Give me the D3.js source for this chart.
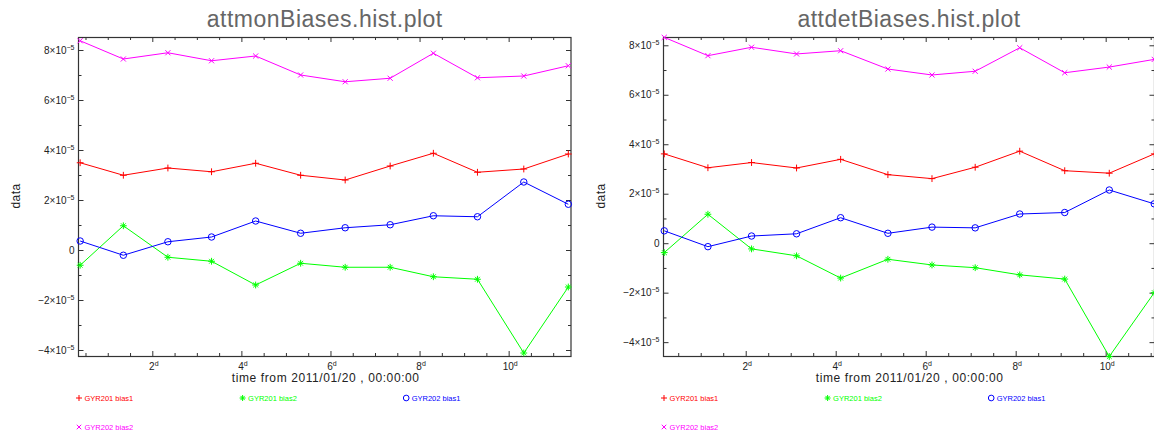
<!DOCTYPE html>
<html>
<head>
<meta charset="utf-8">
<script src="https://cdn.jsdelivr.net/npm/d3@7"></script>
<style>
  html, body { margin: 0; padding: 0; background: #fff; }
  svg { display: block; }
  text { font-family: "Liberation Sans", Arial, sans-serif; }
</style>
</head>
<body>
<svg id="chart" width="1154" height="433"></svg>
<script>
// ---------------- data ----------------
const seriesNames = ["GYR201 bias1", "GYR201 bias2", "GYR202 bias1", "GYR202 bias2"];
const seriesColors = ["#ff0000", "#00ff00", "#0000ff", "#ff00ff"];
const seriesMarkers = ["plus", "star", "circle", "cross"];

const xTickValues = [2, 4, 6, 8, 10];
const xTickSuffix = "d";
const yTickValues = [-4e-5, -2e-5, 0, 2e-5, 4e-5, 6e-5, 8e-5];
const xAxisTitle = "time from 2011/01/20 , 00:00:00";
const yAxisTitle = "data";

// attmonBiases (days since 2011/01/20)
const monTimes = [0.38, 1.35, 2.35, 3.33, 4.32, 5.33, 6.33, 7.34, 8.31, 9.30, 10.34, 11.34];
const monGyr201Bias1 = [3.49e-5, 2.99e-5, 3.28e-5, 3.13e-5, 3.47e-5, 2.99e-5, 2.80e-5, 3.36e-5, 3.87e-5, 3.11e-5, 3.24e-5, 3.84e-5];
const monGyr201Bias2 = [-0.61e-5, 0.97e-5, -0.29e-5, -0.45e-5, -1.40e-5, -0.53e-5, -0.69e-5, -0.69e-5, -1.07e-5, -1.17e-5, -4.12e-5, -1.48e-5];
const monGyr202Bias1 = [0.36e-5, -0.21e-5, 0.33e-5, 0.52e-5, 1.16e-5, 0.67e-5, 0.89e-5, 1.01e-5, 1.37e-5, 1.33e-5, 2.72e-5, 1.83e-5];
const monGyr202Bias2 = [8.37e-5, 7.64e-5, 7.89e-5, 7.57e-5, 7.76e-5, 7.00e-5, 6.73e-5, 6.87e-5, 7.87e-5, 6.89e-5, 6.96e-5, 7.37e-5];

// attdetBiases
const detTimes = [0.19, 1.16, 2.13, 3.13, 4.11, 5.16, 6.14, 7.10, 8.09, 9.09, 10.08, 11.08];
const detGyr201Bias1 = [3.61e-5, 3.05e-5, 3.26e-5, 3.04e-5, 3.39e-5, 2.77e-5, 2.61e-5, 3.07e-5, 3.72e-5, 2.93e-5, 2.83e-5, 3.61e-5];
const detGyr201Bias2 = [-0.38e-5, 1.17e-5, -0.23e-5, -0.51e-5, -1.41e-5, -0.65e-5, -0.88e-5, -0.99e-5, -1.28e-5, -1.45e-5, -4.58e-5, -2.00e-5];
const detGyr202Bias1 = [0.50e-5, -0.14e-5, 0.29e-5, 0.38e-5, 1.03e-5, 0.40e-5, 0.65e-5, 0.62e-5, 1.18e-5, 1.24e-5, 2.15e-5, 1.59e-5];
const detGyr202Bias2 = [8.32e-5, 7.58e-5, 7.92e-5, 7.65e-5, 7.78e-5, 7.04e-5, 6.80e-5, 6.95e-5, 7.90e-5, 6.89e-5, 7.12e-5, 7.43e-5];

// ---------------- layout ----------------
const panels = [
  { title: "attmonBiases.hist.plot", times: monTimes,
    series: [monGyr201Bias1, monGyr201Bias2, monGyr202Bias1, monGyr202Bias2],
    left: 78.5, right: 571, top: 37, bottom: 356,
    xDomain: [0.343, 11.40], yDomain: [-4.24e-5, 8.52e-5], ylabX: 16 },
  { title: "attdetBiases.hist.plot", times: detTimes,
    series: [detGyr201Bias1, detGyr201Bias2, detGyr202Bias1, detGyr202Bias2],
    left: 663.5, right: 1154.5, top: 37, bottom: 356,
    xDomain: [0.173, 11.085], yDomain: [-4.56e-5, 8.335e-5], ylabX: 601 }
];

const svg = d3.select("#chart");
const axisColor = "#333";

function markerPath(type, s) {
  switch (type) {
    case "plus": return `M${-s},0H${s}M0,${-s}V${s}`;
    case "cross": return `M${-s*0.75},${-s*0.75}L${s*0.75},${s*0.75}M${-s*0.75},${s*0.75}L${s*0.75},${-s*0.75}`;
    case "star": return `M${-s},0H${s}M0,${-s}V${s}M${-s*0.7},${-s*0.7}L${s*0.7},${s*0.7}M${-s*0.7},${s*0.7}L${s*0.7},${-s*0.7}`;
    default: return null;
  }
}

function drawMarker(g, type, color, cx, cy, s) {
  if (type === "circle") {
    g.append("circle").attr("cx", cx).attr("cy", cy).attr("r", s * 0.95)
      .attr("fill", "none").attr("stroke", color).attr("stroke-width", 1);
  } else {
    g.append("path").attr("d", markerPath(type, s))
      .attr("transform", `translate(${cx},${cy})`)
      .attr("fill", "none").attr("stroke", color).attr("stroke-width", 1);
  }
}

panels.forEach(p => {
  const g = svg.append("g");
  const x = d3.scaleLinear().domain(p.xDomain).range([p.left, p.right]);
  const y = d3.scaleLinear().domain(p.yDomain).range([p.bottom, p.top]);

  // minor tick positions
  const xMinor = d3.range(0.5, 12, 0.5).filter(v => v % 2 !== 0 && v >= p.xDomain[0] && v <= p.xDomain[1]);
  const yMinor = d3.range(-5e-5, 9e-5, 1e-5).map(v => Math.round(v * 1e6) / 1e6)
    .filter(v => Math.round(v / 1e-5) % 2 !== 0 && v >= p.yDomain[0] && v <= p.yDomain[1]);

  const axes = [
    [d3.axisBottom(x).tickValues(xTickValues), `translate(0,${p.bottom})`, 5],
    [d3.axisBottom(x).tickValues(xMinor), `translate(0,${p.bottom})`, 3],
    [d3.axisTop(x).tickValues(xTickValues), `translate(0,${p.top})`, 5],
    [d3.axisTop(x).tickValues(xMinor), `translate(0,${p.top})`, 3],
    [d3.axisLeft(y).tickValues(yTickValues), `translate(${p.left},0)`, 5],
    [d3.axisLeft(y).tickValues(yMinor), `translate(${p.left},0)`, 3],
    [d3.axisRight(y).tickValues(yTickValues), `translate(${p.right},0)`, 5],
    [d3.axisRight(y).tickValues(yMinor), `translate(${p.right},0)`, 3]
  ];
  axes.forEach(([ax, tr, len]) => {
    const ga = g.append("g").attr("transform", tr)
      .call(ax.tickSize(-len).tickSizeOuter(0).tickFormat(""));
    ga.select(".domain").remove();
    ga.selectAll(".tick line").attr("stroke", axisColor).attr("stroke-width", 1);
  });

  // frame
  g.append("rect").attr("x", p.left).attr("y", p.top + 0.5)
    .attr("width", p.right - p.left).attr("height", p.bottom - p.top)
    .attr("fill", "none").attr("stroke", axisColor).attr("stroke-width", 1.2);

  // y tick labels
  yTickValues.forEach(v => {
    if (v < p.yDomain[0] || v > p.yDomain[1]) return;
    const t = g.append("text").attr("x", p.left - 4).attr("y", y(v)).attr("dy", "0.35em")
      .attr("text-anchor", "end").attr("font-size", 10).attr("fill", "#222");
    if (v === 0) { t.text("0"); return; }
    const m = Math.round(v / 1e-5);
    t.append("tspan").text((m < 0 ? "\u2212" : "") + Math.abs(m) + "\u00d710");
    t.append("tspan").attr("font-size", 7).attr("dy", -4).text("\u22125");
  });

  // x tick labels
  xTickValues.forEach(v => {
    const t = g.append("text").attr("x", x(v) + 1.5).attr("y", p.bottom + 14)
      .attr("text-anchor", "middle").attr("font-size", 10).attr("fill", "#222");
    t.append("tspan").text(v);
    t.append("tspan").attr("font-size", 7).attr("dy", -4).text(xTickSuffix);
  });

  // axis titles
  g.append("text").attr("x", (p.left + Math.min(p.right, 1154)) / 2 + 1).attr("y", p.bottom + 25.5)
    .attr("text-anchor", "middle").attr("font-size", 12).attr("letter-spacing", 0.6)
    .attr("fill", "#222").text(xAxisTitle);
  g.append("text").attr("transform", `translate(${p.ylabX + 4},196) rotate(-90)`)
    .attr("text-anchor", "middle").attr("font-size", 12).attr("letter-spacing", 0.4)
    .attr("fill", "#222").text(yAxisTitle);

  // title
  g.append("text").attr("x", (p.left + p.right) / 2).attr("y", 27)
    .attr("text-anchor", "middle").attr("font-size", 23).attr("letter-spacing", 0.5)
    .attr("fill", "#666").text(p.title);

  // series
  const plot = g.append("g");
  p.series.forEach((vals, i) => {
    const pts = vals.map((v, j) => [p.times[j], v]);
    plot.append("path").datum(pts)
      .attr("d", d3.line().x(d => x(d[0])).y(d => y(d[1])))
      .attr("fill", "none").attr("stroke", seriesColors[i]).attr("stroke-width", 1);
    pts.forEach(d => drawMarker(plot, seriesMarkers[i], seriesColors[i], x(d[0]), y(d[1]), 3.4));
  });

  // legend
  const legW = 163.6;
  seriesNames.forEach((name, i) => {
    const col = i % 3, row = Math.floor(i / 3);
    const lx = p.left + col * legW, ly = 398 + row * 29;
    drawMarker(g, seriesMarkers[i], seriesColors[i], lx + 0.5, ly, 3);
    g.append("text").attr("x", lx + 6).attr("y", ly).attr("dy", "0.35em")
      .attr("font-size", 7.5).attr("fill", seriesColors[i]).text(name);
  });
});
</script>
</body>
</html>
